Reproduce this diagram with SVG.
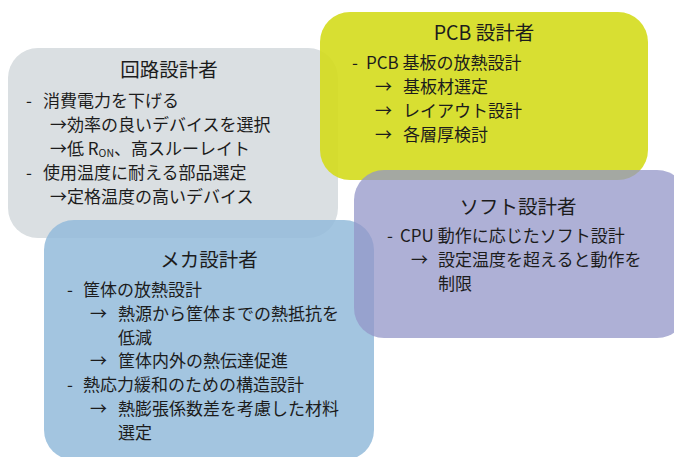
<svg xmlns="http://www.w3.org/2000/svg" width="674" height="457" viewBox="0 0 674 457">
<style>
text{font-family:"Noto Sans CJK JP","Noto Sans",sans-serif;fill:#1c1c1c}
.t{font-size:19.5px;text-anchor:middle}
.b{font-size:17px}
.sub{font-size:10.5px}
</style>
<rect width="674" height="457" fill="#ffffff"/>
<g id="circuit">
<rect x="8" y="48" width="330" height="190" rx="30" fill="#dadfe2"/>
</g>
<g id="mecha">
<rect x="44" y="220" width="330" height="240" rx="30" fill="#93bbda" fill-opacity="0.85"/>
</g>
<g id="pcb">
<rect x="320" y="12" width="328" height="168" rx="30" fill="#d4db1c" fill-opacity="0.9"/>
</g>
<g id="soft">
<rect x="354" y="170" width="333" height="168" rx="30" fill="#9396c8" fill-opacity="0.75"/>
</g>
<g id="circuit-text">
<text class="t" x="169" y="77">回路設計者</text>
<text class="b" y="107"><tspan x="26">-</tspan><tspan x="43">消費電力を下げる</tspan></text>
<text class="b" y="131"><tspan x="50">→</tspan><tspan x="67">効率の良いデバイスを選択</tspan></text>
<text class="b" y="155"><tspan x="50">→</tspan><tspan x="67">低 R</tspan><tspan class="sub" dy="2">ON</tspan><tspan dy="-2">、高スルーレイト</tspan></text>
<text class="b" y="179"><tspan x="26">-</tspan><tspan x="43">使用温度に耐える部品選定</tspan></text>
<text class="b" y="203"><tspan x="50">→</tspan><tspan x="67">定格温度の高いデバイス</tspan></text>
</g>
<g id="pcb-text">
<text class="t" x="484" y="40">PCB 設計者</text>
<text class="b" y="69"><tspan x="352">-</tspan><tspan x="366">PCB 基板の放熱設計</tspan></text>
<text class="b" y="93"><tspan x="375">→</tspan><tspan x="403">基板材選定</tspan></text>
<text class="b" y="117"><tspan x="375">→</tspan><tspan x="403">レイアウト設計</tspan></text>
<text class="b" y="141"><tspan x="375">→</tspan><tspan x="403">各層厚検討</tspan></text>
</g>
<g id="soft-text">
<text class="t" x="518" y="214">ソフト設計者</text>
<text class="b" y="242"><tspan x="387">-</tspan><tspan x="400">CPU 動作に応じたソフト設計</tspan></text>
<text class="b" y="266"><tspan x="411">→</tspan><tspan x="438">設定温度を超えると動作を</tspan></text>
<text class="b" y="290"><tspan x="438">制限</tspan></text>
</g>
<g id="mecha-text">
<text class="t" x="209" y="267">メカ設計者</text>
<text class="b" y="296"><tspan x="67">-</tspan><tspan x="83">筐体の放熱設計</tspan></text>
<text class="b" y="320"><tspan x="90">→</tspan><tspan x="118">熱源から筐体までの熱抵抗を</tspan></text>
<text class="b" y="344"><tspan x="118">低減</tspan></text>
<text class="b" y="367"><tspan x="90">→</tspan><tspan x="118">筐体内外の熱伝達促進</tspan></text>
<text class="b" y="391"><tspan x="67">-</tspan><tspan x="83">熱応力緩和のための構造設計</tspan></text>
<text class="b" y="415"><tspan x="90">→</tspan><tspan x="118">熱膨張係数差を考慮した材料</tspan></text>
<text class="b" y="439"><tspan x="118">選定</tspan></text>
</g>
</svg>
